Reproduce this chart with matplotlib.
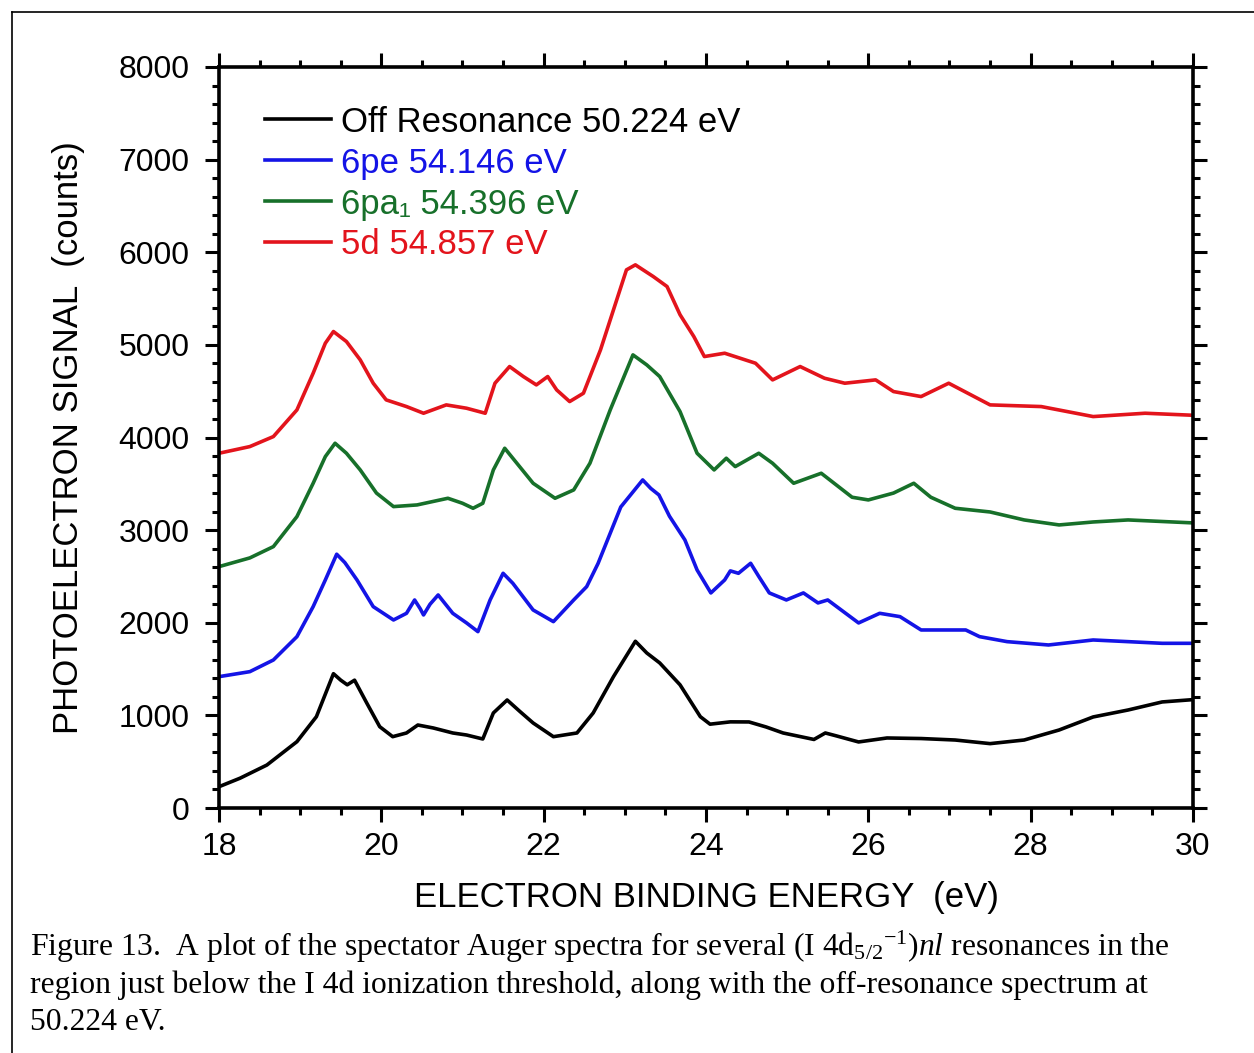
import matplotlib
matplotlib.use("Agg")
import matplotlib.pyplot as plt
from matplotlib.lines import Line2D

plt.rcParams['font.family'] = ['Liberation Sans', 'DejaVu Sans']
plt.rcParams['mathtext.fontset'] = 'custom'
plt.rcParams['mathtext.rm'] = 'Liberation Serif'
plt.rcParams['mathtext.it'] = 'Liberation Serif:italic'

# off resonance 50.224 eV
e_off = [18.0, 18.26, 18.59, 18.96, 19.2, 19.41, 19.5, 19.58, 19.67, 19.82, 19.98,
         20.14, 20.31, 20.45, 20.64, 20.88, 21.05, 21.25, 21.38, 21.55, 21.71, 21.87,
         22.12, 22.41, 22.61, 22.86, 23.13, 23.27, 23.43, 23.68, 23.93, 24.05, 24.3,
         24.53, 24.74, 24.95, 25.33, 25.47, 25.6, 25.88, 26.23, 26.65, 27.07, 27.5,
         27.92, 28.35, 28.77, 29.2, 29.62, 30.0]
sig_off = [230, 322, 464, 716, 986, 1450, 1380, 1330, 1380, 1134, 878,
           770, 810, 896, 864, 810, 788, 745, 1026, 1166, 1040, 918,
           770, 810, 1026, 1418, 1800, 1674, 1566, 1330, 986, 905, 930,
           929, 875, 810, 740, 810, 780, 713, 756, 750, 734, 695,
           734, 842, 983, 1058, 1145, 1170]

# 6pe 54.146 eV
e_6pe = [18.0, 18.38, 18.67, 18.96, 19.16, 19.31, 19.45, 19.55, 19.7, 19.9, 20.15,
         20.31, 20.41, 20.48, 20.52, 20.6, 20.7, 20.88, 21.05, 21.19, 21.34, 21.5,
         21.62, 21.87, 22.12, 22.37, 22.53, 22.67, 22.95, 23.22, 23.32, 23.42, 23.55,
         23.74, 23.89, 24.06, 24.23, 24.3, 24.4, 24.55, 24.65, 24.78, 24.99, 25.2,
         25.38, 25.5, 25.88, 26.14, 26.39, 26.65, 27.2, 27.37, 27.71, 28.22, 28.77,
         29.2, 29.62, 30.0]
sig_6pe = [1418, 1472, 1598, 1850, 2174, 2462, 2740, 2650, 2462, 2174, 2030,
           2102, 2246, 2150, 2084, 2200, 2300, 2102, 1998, 1904, 2246, 2534,
           2426, 2138, 2012, 2246, 2390, 2640, 3250, 3542, 3450, 3380, 3150,
           2894, 2570, 2322, 2462, 2560, 2534, 2642, 2500, 2322, 2246, 2322,
           2214, 2246, 1998, 2102, 2066, 1922, 1922, 1850, 1796, 1760, 1814,
           1796, 1778, 1778]

# 6pa1 54.396 eV
e_6pa1 = [18.0, 18.38, 18.67, 18.96, 19.16, 19.31, 19.43, 19.57, 19.74, 19.94, 20.15,
          20.44, 20.82, 21.0, 21.13, 21.25, 21.38, 21.52, 21.67, 21.87, 22.14, 22.37,
          22.57, 22.82, 23.1, 23.27, 23.43, 23.68, 23.89, 24.1, 24.25, 24.36, 24.65,
          24.82, 25.08, 25.42, 25.8, 26.0, 26.31, 26.56, 26.77, 27.07, 27.5, 27.92,
          28.35, 28.77, 29.2, 30.0]
sig_6pa1 = [2606, 2700, 2822, 3146, 3506, 3794, 3938, 3830, 3650, 3400, 3254,
            3272, 3344, 3290, 3236, 3290, 3650, 3884, 3722, 3506, 3344, 3434,
            3722, 4298, 4892, 4784, 4658, 4280, 3830, 3650, 3776, 3686, 3830,
            3722, 3506, 3614, 3355, 3326, 3400, 3506, 3355, 3236, 3196, 3110,
            3056, 3088, 3110, 3078]

# 5d 54.857 eV
e_5d = [18.0, 18.38, 18.67, 18.96, 19.16, 19.31, 19.41, 19.57, 19.74, 19.9, 20.06,
        20.31, 20.52, 20.8, 21.05, 21.28, 21.4, 21.58, 21.75, 21.91, 22.05, 22.16,
        22.32, 22.49, 22.7, 22.9, 23.02, 23.13, 23.35, 23.52, 23.68, 23.85, 23.98,
        24.23, 24.61, 24.82, 25.16, 25.46, 25.71, 26.09, 26.31, 26.65, 26.99, 27.5,
        28.13, 28.77, 29.41, 30.0]
sig_5d = [3830, 3902, 4010, 4298, 4694, 5018, 5144, 5036, 4838, 4586, 4406,
          4334, 4262, 4352, 4316, 4262, 4586, 4766, 4658, 4568, 4658, 4514,
          4388, 4478, 4946, 5486, 5810, 5864, 5738, 5630, 5326, 5090, 4874,
          4910, 4802, 4622, 4766, 4640, 4586, 4622, 4496, 4442, 4586, 4352,
          4334, 4226, 4262, 4240]

labels = ['Off Resonance 50.224 eV', '6pe 54.146 eV', '6pa\u2081 54.396 eV', '5d 54.857 eV']
colors = ['#000000', '#1414e6', '#17702a', '#e3141c']

fig = plt.figure(figsize=(12.54, 10.53), dpi=100)
ax = fig.add_axes([219 / 1254, 1 - 808 / 1053, 974 / 1254, 741 / 1053])

series = [(e_off, sig_off), (e_6pe, sig_6pe), (e_6pa1, sig_6pa1), (e_5d, sig_5d)]
for (e, s), lab, c in zip(series, labels, colors):
    ax.plot(e, s, color=c, lw=2.6, label=lab)

ax.set_xlim(18, 30)
ax.set_ylim(0, 8000)
ax.set_xticks(range(18, 31, 2))
ax.set_yticks(range(0, 8001, 1000))
ax.set_xticks([18 + 0.5 * i for i in range(25)], minor=True)
ax.set_yticks(range(0, 8001, 200), minor=True)
ax.tick_params(which='both', direction='out', top=True, right=True, width=2.2, labelsize=23)
ax.tick_params(which='major', length=10)
ax.tick_params(which='minor', length=5)
ax.tick_params(axis='y', which='major', pad=11)
ax.tick_params(axis='x', which='major', pad=7)
for sp in ax.spines.values():
    sp.set_linewidth(2.6)

ax.set_xlabel('ELECTRON BINDING ENERGY  (eV)', fontsize=25)
ax.set_ylabel('PHOTOELECTRON SIGNAL  (counts)', fontsize=25)
ax.xaxis.set_label_coords(0.5, -0.098)
ax.yaxis.set_label_coords(-0.138, 0.5)

leg = ax.legend(loc='upper left', bbox_to_anchor=(0.047, 0.948), frameon=False,
                fontsize=25, handlelength=1.9, handletextpad=0.3, labelspacing=0.23,
                borderpad=0, borderaxespad=0)
for txt, ln in zip(leg.get_texts(), leg.get_lines()):
    txt.set_color(ln.get_color())
    ln.set_linewidth(2.6)

# caption
cap = [
    r'Figure 13.  A plot of the spectator Auger spectra for several (I 4d$_{5/2}$$^{\mathrm{-1}}$)$nl$ resonances in the',
    'region just below the I 4d ionization threshold, along with the off-resonance spectrum at',
    '50.224 eV.',
]
for i, line in enumerate(cap):
    fig.text(30 / 1254, 1 - (956 + 37 * i) / 1053, line, family='Liberation Serif',
             fontsize=22.8, va='baseline', ha='left')

# frame around the figure (left and top edges visible)
fig.add_artist(Line2D([12 / 1254, 12 / 1254], [0, 1 - 12 / 1053], color='black', lw=1.2))
fig.add_artist(Line2D([12 / 1254, 1], [1 - 12 / 1053, 1 - 12 / 1053], color='black', lw=1.2))

fig.savefig('out.png', dpi=100)
